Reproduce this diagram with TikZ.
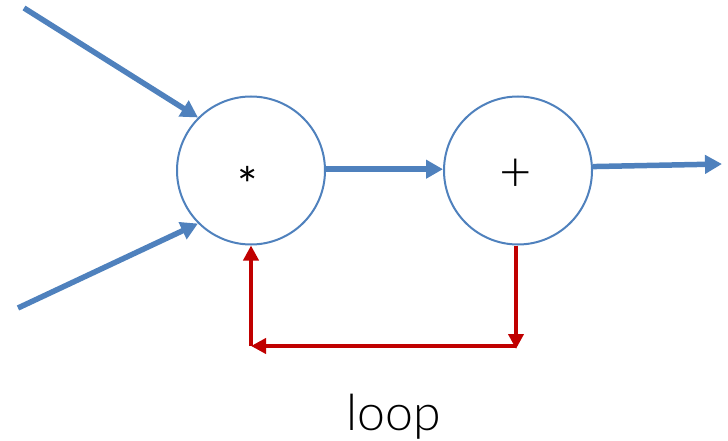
\documentclass[tikz,border=0pt]{standalone}
\usepackage{fontspec}
\setmainfont{Lato}
\newfontfamily\loopfont{Lato Light}
\usetikzlibrary{arrows.meta}
\definecolor{flowblue}{RGB}{79,129,189}
\definecolor{loopred}{RGB}{192,0,0}
\tikzset{
  opnode/.style={circle,draw=flowblue,line width=2pt,minimum size=148pt,inner sep=0pt,fill=white},
  bluearrow/.style={draw=flowblue,line width=5.5pt,-{Triangle[length=17pt,width=18pt]}},
  redarrow/.style={draw=loopred,line width=4.5pt,-{Triangle[length=15pt,width=15pt]}}
}
\begin{document}
\begin{tikzpicture}[x=1pt,y=-1pt]
\useasboundingbox (0,0) rectangle (728,441);
\node[opnode] (mul) at (251,170.5) {};
\node[opnode] (add) at (518,170.5) {};
\node[font=\fontsize{48}{48}\selectfont,inner sep=0pt] (mulsym) at (248,184) {*};
\node[font=\loopfont\fontsize{56}{56}\selectfont,inner sep=0pt] (addsym) at (516,175) {+};
\coordinate (in1) at (24,8);
\coordinate (in2) at (18,308);
\coordinate (out) at (722,164);
\coordinate (r1) at (516,346);
\coordinate (l1) at (251,346);
\draw[bluearrow] (in1) -- (mul.135);
\draw[bluearrow] (in2) -- (mul.225);
\draw[bluearrow] (mul.1) -- (add.179);
\draw[bluearrow] (add.3) -- (out);
\draw[redarrow] (add.south -| r1) -- ([yshift=-3pt]r1);
\draw[redarrow] (r1) -- (l1);
\draw[redarrow] (l1) -- (mul.south);
\node[font=\loopfont\fontsize{50}{50}\selectfont,anchor=base] (label) at (394,430) {loop};
\end{tikzpicture}
\end{document}
